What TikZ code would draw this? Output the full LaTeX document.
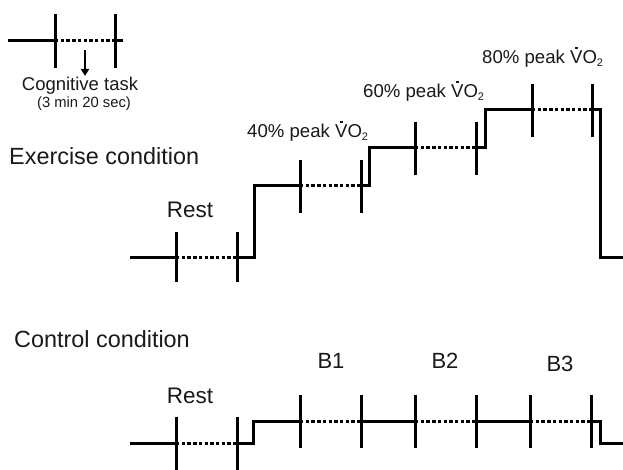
\documentclass[tikz,border=0pt]{standalone}
\usepackage{fontspec}
\setmainfont{Liberation Sans}
\usetikzlibrary{arrows.meta}
\tikzset{
  solidln/.style={line width=3pt, line join=miter},
  dotln/.style={line width=3pt, dash pattern=on 3.4pt off 2.3pt},
  tickln/.style={line width=3pt},
  lbl/.style={inner sep=0pt, text=black!90},
}
\newcommand{\dotV}{\leavevmode\hbox{\ooalign{V\cr\hidewidth\raisebox{0.8em}{\rule{2.4pt}{2.4pt}}\hidewidth\cr}}}
\newcommand{\vdotO}{\dotV O\textsubscript{\fontsize{11}{11}\selectfont 2}}
\begin{document}
\begin{tikzpicture}[x=1pt,y=-1pt]
\useasboundingbox (0,0) rectangle (623,470);
% ---------- legend ----------
\draw[solidln] (8,41) -- (55,41);
\draw[dotln] (55,41) -- (115,41);
\draw[solidln] (115,41) -- (123,41);
\draw[tickln] (55,14) -- (55,68);
\draw[tickln] (115,14) -- (115,68);
\draw[line width=2pt,-{Triangle[length=7pt,width=8pt]}] (85,50) -- (85,76);
\node[lbl,font=\fontsize{18.5}{20}\selectfont] (ct) at (80,86) {Cognitive task};
\node[lbl,font=\fontsize{14.8}{16}\selectfont] (ctt) at (84,104) {(3 min 20 sec)};
% ---------- exercise ----------
\node[lbl,font=\fontsize{23.4}{26}\selectfont,anchor=west] (ex) at (9,156) {Exercise condition};
\node[lbl,font=\fontsize{22.5}{25}\selectfont] (r1) at (190,210) {Rest};
\node[lbl,font=\fontsize{18.6}{20}\selectfont,anchor=west] (p40) at (247,133) {40\% peak \vdotO};
\node[lbl,font=\fontsize{18.6}{20}\selectfont,anchor=west] (p60) at (363,93) {60\% peak \vdotO};
\node[lbl,font=\fontsize{18.6}{20}\selectfont,anchor=west] (p80) at (482,59) {80\% peak \vdotO};

\draw[solidln] (130,257) -- (176,257);
\draw[dotln] (176,257) -- (237,257);
\draw[solidln] (237,257) -- (254,257) -- (254,186) -- (300,186);
\draw[dotln] (300,186) -- (361,186);
\draw[solidln] (361,186) -- (369,186) -- (369,148) -- (415,148);
\draw[dotln] (415,148) -- (476,148);
\draw[solidln] (476,148) -- (485,148) -- (485,110) -- (532,110);
\draw[dotln] (532,110) -- (592,110);
\draw[solidln] (592,110) -- (600,110) -- (600,257) -- (623,257);
\foreach \x in {176,237} \draw[tickln] (\x,232) -- (\x,282);
\foreach \x in {300,361} \draw[tickln] (\x,160) -- (\x,213);
\foreach \x in {415,476} \draw[tickln] (\x,122) -- (\x,175);
\foreach \x in {532,592} \draw[tickln] (\x,84) -- (\x,137);
% ---------- control ----------
\node[lbl,font=\fontsize{23.4}{26}\selectfont,anchor=west] (cc) at (14,339) {Control condition};
\node[lbl,font=\fontsize{22.5}{25}\selectfont] (r2) at (190,396) {Rest};
\node[lbl,font=\fontsize{22}{24}\selectfont] (b1) at (331,361) {B1};
\node[lbl,font=\fontsize{22}{24}\selectfont] (b2) at (445,361) {B2};
\node[lbl,font=\fontsize{22}{24}\selectfont] (b3) at (560,364) {B3};

\draw[solidln] (130,443) -- (176,443);
\draw[dotln] (176,443) -- (237,443);
\draw[solidln] (237,443) -- (253,443) -- (253,421) -- (300,421);
\draw[dotln] (300,421) -- (361,421);
\draw[solidln] (361,421) -- (415,421);
\draw[dotln] (415,421) -- (476,421);
\draw[solidln] (476,421) -- (530,421);
\draw[dotln] (530,421) -- (591,421);
\draw[solidln] (591,421) -- (600,421) -- (600,443) -- (623,443);
\foreach \x in {176,237} \draw[tickln] (\x,417) -- (\x,470);
\foreach \x in {300,361,415,476,530,591} \draw[tickln] (\x,395) -- (\x,448);
\end{tikzpicture}
\end{document}
